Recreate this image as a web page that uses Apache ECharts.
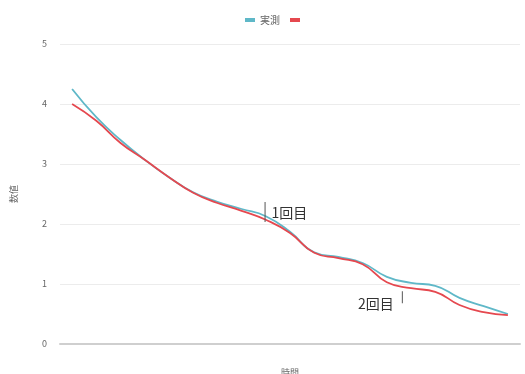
<!DOCTYPE html>
<html>
<head>
<meta charset="utf-8">
<script src="https://cdn.jsdelivr.net/npm/echarts@6/dist/echarts.min.js"></script>
<style>
html,body{margin:0;padding:0;background:#fff;}
#chart{width:525px;height:374px;}
</style>
</head>
<body>
<div id="chart"></div>
<script>
// step index along the horizontal axis
const steps = [0,1,2,3,4,5,6,7,8,9,10,11,12,13,14,15,16,17,18];
// first series (teal)
const seriesA = [4.25,3.78,3.40,3.07,2.78,2.53,2.37,2.25,2.13,1.87,1.53,1.45,1.35,1.12,1.02,0.97,0.77,0.63,0.50];
// second series (red)
const seriesB = [4.00,3.72,3.35,3.07,2.78,2.52,2.35,2.22,2.07,1.85,1.52,1.43,1.33,1.03,0.93,0.87,0.65,0.53,0.48];
const seriesNames = ['実測', ' '];
const yTicks = [0,1,2,3,4,5];
// annotation markers: [step, value, text]
const notes = [[7.97, 2.2, '1回目'], [13.64, 0.78, '2回目']];

const chart = echarts.init(document.getElementById('chart'));
const pairs = arr => arr.map((v, i) => [steps[i], v]);

chart.setOption({
  animation: false,
  textStyle: {fontFamily: '"Noto Sans CJK JP", "Noto Sans", sans-serif'},
  legend: {
    top: 10, left: 240,
    itemWidth: 10, itemHeight: 4, itemGap: 10,
    icon: 'rect',
    textStyle: {fontSize: 10, color: '#666'},
    data: seriesNames
  },
  grid: {left: 60, right: 5, top: 44, bottom: 30, outerBoundsMode: 'none', containLabel: false},
  xAxis: {
    type: 'value', min: -0.5, max: 18.5,
    name: '時間', nameLocation: 'middle', nameGap: 24,
    nameTextStyle: {fontSize: 9, color: '#666'},
    axisLabel: {show: false}, axisTick: {show: false},
    splitLine: {show: false},
    axisLine: {show: true, lineStyle: {color: '#cfcfcf', width: 2}}
  },
  yAxis: {
    type: 'value', min: yTicks[0], max: yTicks[yTicks.length - 1], interval: 1,
    name: '数値', nameLocation: 'middle', nameGap: 42, nameRotate: 90,
    nameTextStyle: {fontSize: 9, color: '#666'},
    axisLabel: {fontSize: 9, color: '#666', margin: 13},
    axisLine: {show: false}, axisTick: {show: false},
    splitLine: {lineStyle: {color: '#ececec', width: 1}}
  },
  series: [
    {
      name: seriesNames[0], type: 'line', smooth: true, showSymbol: false,
      data: pairs(seriesA), color: '#5fb8c8',
      lineStyle: {width: 1.8, color: '#5fb8c8'}
    },
    {
      name: seriesNames[1], type: 'line', smooth: true, showSymbol: false,
      data: pairs(seriesB), color: '#e5484f',
      lineStyle: {width: 1.8, color: '#e5484f'},
      markPoint: {
        silent: true,
        symbol: 'rect',
        itemStyle: {color: '#555'},
        data: notes.map((n, k) => ({
          coord: [n[0], n[1]],
          symbolSize: k === 0 ? [1, 20] : [1, 12],
          label: {
            show: true, formatter: n[2], fontSize: 14, color: '#333',
            position: k === 0 ? 'right' : 'left',
            distance: k === 0 ? 6 : 8,
            offset: k === 0 ? [0, 1] : [0, 6]
          }
        }))
      }
    }
  ]
});
</script>
</body>
</html>
